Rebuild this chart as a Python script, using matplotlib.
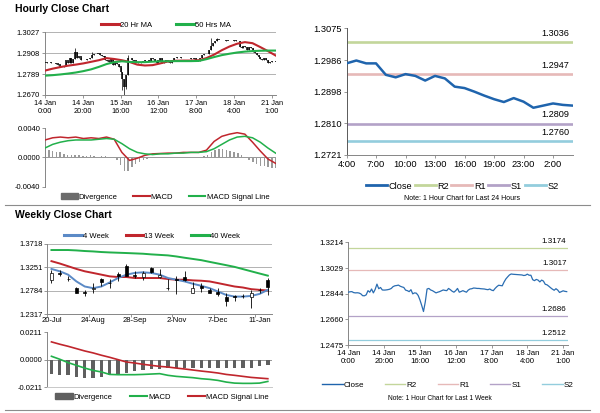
import numpy as np
import matplotlib
matplotlib.use("Agg")
import matplotlib.pyplot as plt
from matplotlib.lines import Line2D
from matplotlib.patches import Patch

plt.rcParams['font.family'] = ['Liberation Sans', 'DejaVu Sans']

# ---------------- data ----------------
# hourly closes, 14 Jan 0:00 .. 21 Jan 2:00 (trading hours)
hourly_close = [
    1.2855, 1.2858, 1.2859, 1.2852, 1.2850, 1.2851, 1.2849, 1.2843, 1.2830, 1.2829,
    1.2836, 1.2866, 1.2855, 1.2878, 1.2850, 1.2875, 1.2913, 1.2880, 1.2889, 1.2871,
    1.2870, 1.2871, 1.2873, 1.2876, 1.2882, 1.2895, 1.2901, 1.2903, 1.2906, 1.2898,
    1.2893, 1.2889, 1.2870, 1.2866, 1.2859, 1.2873, 1.2843, 1.2850, 1.2848, 1.2832,
    1.2800, 1.2760, 1.2716, 1.2785, 1.2878, 1.2882, 1.2871, 1.2866, 1.2858, 1.2850,
    1.2855, 1.2859, 1.2865, 1.2871, 1.2868, 1.2866, 1.2882, 1.2873, 1.2862, 1.2855,
    1.2866, 1.2882, 1.2855, 1.2860, 1.2866, 1.2860, 1.2855, 1.2870, 1.2878, 1.2880,
    1.2885, 1.2884, 1.2882, 1.2882, 1.2880, 1.2879, 1.2878, 1.2875, 1.2873, 1.2878,
    1.2870, 1.2866, 1.2882, 1.2895, 1.2905, 1.2903, 1.2901, 1.2928, 1.2950, 1.2965,
    1.2979, 1.2986, 1.2984, 1.2983, 1.2982, 1.2981, 1.2980, 1.2979, 1.2975, 1.2977,
    1.2985, 1.2977, 1.2977, 1.2945, 1.2938, 1.2947, 1.2942, 1.2929, 1.2942, 1.2935,
    1.2912, 1.2908, 1.2898, 1.2887, 1.2877, 1.2869, 1.2880, 1.2870, 1.2853, 1.2859,
    1.2865, 1.2861, 1.2859]
hourly_wick_high = {16: 1.2935, 25: 1.2912, 88: 1.2992, 91: 1.2997, 44: 1.2900}
hourly_wick_low = {41: 1.2700, 42: 1.2670, 43: 1.2705, 89: 1.2950}
hourly_labels = ['14 Jan\n0:00', '14 Jan\n20:00', '15 Jan\n16:00', '16 Jan\n12:00',
                 '17 Jan\n8:00', '18 Jan\n4:00', '21 Jan\n1:00']

# indicators sampled every ~4 hours
ma20 = [1.2809, 1.2820, 1.2829, 1.2837, 1.2843, 1.2850, 1.2859, 1.2868, 1.2880, 1.2875,
        1.2868, 1.2858, 1.2843, 1.2838, 1.2840, 1.2850, 1.2861, 1.2865, 1.2866, 1.2866,
        1.2868, 1.2880, 1.2900, 1.2925, 1.2946, 1.2962, 1.2971, 1.2965, 1.2943, 1.2920,
        1.2895]
ma50 = [1.2780, 1.2783, 1.2787, 1.2792, 1.2798, 1.2806, 1.2816, 1.2830, 1.2846, 1.2857,
        1.2862, 1.2858, 1.2857, 1.2857, 1.2860, 1.2862, 1.2862, 1.2863, 1.2863, 1.2863,
        1.2864, 1.2874, 1.2886, 1.2897, 1.2905, 1.2912, 1.2917, 1.2920, 1.2922, 1.2923,
        1.2923]
h_macd = [0.0024, 0.0027, 0.0028, 0.0027, 0.0028, 0.0026, 0.0027, 0.0026, 0.0028, 0.0025,
          0.0007, -0.0004, -0.0001, 0.0003, 0.0005, 0.00055, 0.0006, 0.0006, 0.0007, 0.0007,
          0.0007, 0.0010, 0.0022, 0.0029, 0.0032, 0.0034, 0.0032, 0.0021, 0.0009, -0.0002,
          -0.0008]
h_signal = [0.0013, 0.0018, 0.0021, 0.0023, 0.0024, 0.0024, 0.0024, 0.0025, 0.0026, 0.0025,
            0.0019, 0.0012, 0.0007, 0.0005, 0.0004, 0.0005, 0.0005, 0.0006, 0.0006, 0.0007,
            0.0007, 0.0008, 0.0012, 0.0018, 0.0024, 0.0028, 0.0029, 0.0027, 0.0021, 0.0013,
            0.0006]
# divergence every ~2 hours
h_div = [0.0010, 0.0010, 0.0009, 0.0008, 0.0007, 0.0005, 0.0004, 0.0004, 0.0004, 0.0003,
         0.0002, 0.0002, 0.0003, 0.0002, 0.0001, 0.0002, 0.0002, 0.0001, 0.0000, -0.0004,
         -0.0010, -0.0018, -0.0019, -0.0013, -0.0009, -0.0006, -0.0003, -0.0002, 0.0001, 0.0001,
         0.0000, 0.0001, 0.0001, 0.0000, 0.0000, 0.0001, 0.0001, 0.0000, 0.0000, 0.0000,
         0.0000, 0.0001, 0.0002, 0.0004, 0.0008, 0.0010, 0.0011, 0.0011, 0.0010, 0.0009,
         0.0007, 0.0006, 0.0003, 0.0001, -0.0003, -0.0006, -0.0009, -0.0011, -0.0012, -0.0013,
         -0.0014, -0.0014]

# last 24 hours chart
last24_labels = ['4:00', '7:00', '10:00', '13:00', '16:00', '19:00', '23:00', '2:00']
levels_24h = {'R2': 1.3036, 'R1': 1.2947, 'S1': 1.2809, 'S2': 1.2760}
levels_1w = {'R2': 1.3174, 'R1': 1.3017, 'S1': 1.2686, 'S2': 1.2512}

# weekly candles
week_labels = ['20-Jul', '24-Aug', '28-Sep', '2-Nov', '7-Dec', '11-Jan']
w_open = [1.3006, 1.3135, 1.3030, 1.2838, 1.2757, 1.2831, 1.3020, 1.2945, 1.3121, 1.3275,
          1.3094, 1.3060, 1.3242, 1.3060, 1.2845, 1.3013, 1.3060, 1.2750, 1.2885, 1.2804,
          1.2771, 1.2656, 1.2676, 1.2683, 1.2656, 1.2811, 1.3006]
w_high = [1.3208, 1.3195, 1.3087, 1.2871, 1.2804, 1.2939, 1.3040, 1.3020, 1.3154, 1.3329,
          1.3174, 1.3174, 1.3262, 1.3221, 1.3020, 1.3073, 1.3174, 1.2952, 1.2939, 1.2838,
          1.2838, 1.2737, 1.2703, 1.2723, 1.2804, 1.2838, 1.3040]
w_low = [1.2939, 1.3087, 1.2972, 1.2737, 1.2683, 1.2737, 1.2885, 1.2838, 1.2972, 1.3073,
         1.3040, 1.3006, 1.3141, 1.3040, 1.2804, 1.2718, 1.2972, 1.2737, 1.2771, 1.2737,
         1.2683, 1.2481, 1.2589, 1.2636, 1.2434, 1.2737, 1.2703]
w_close = [1.3141, 1.3121, 1.3020, 1.2750, 1.2750, 1.2845, 1.2952, 1.2939, 1.3073, 1.3087,
           1.3087, 1.3141, 1.3161, 1.3107, 1.2838, 1.3006, 1.2993, 1.2838, 1.2838, 1.2750,
           1.2723, 1.2589, 1.2670, 1.2690, 1.2737, 1.2804, 1.2871]
ma4w = [1.3221, 1.3174, 1.3107, 1.2972, 1.2871, 1.2838, 1.2871, 1.2952, 1.3040, 1.3107,
        1.3141, 1.3154, 1.3141, 1.3107, 1.3040, 1.3006, 1.2972, 1.2925, 1.2885, 1.2838,
        1.2771, 1.2703, 1.2670, 1.2670, 1.2683, 1.2723, 1.2804]
ma13w = [1.3376, 1.3329, 1.3275, 1.3221, 1.3174, 1.3141, 1.3107, 1.3073, 1.3060, 1.3060,
         1.3040, 1.3040, 1.3040, 1.3040, 1.3020, 1.3006, 1.3006, 1.2993, 1.2986, 1.2972,
         1.2939, 1.2905, 1.2871, 1.2851, 1.2818, 1.2804, 1.2791]
ma40w = [1.3598, 1.3598, 1.3598, 1.3590, 1.3578, 1.3570, 1.3558, 1.3550, 1.3544, 1.3538,
         1.3531, 1.3524, 1.3511, 1.3501, 1.3491, 1.3470, 1.3444, 1.3420, 1.3396, 1.3362,
         1.3329, 1.3296, 1.3262, 1.3218, 1.3174, 1.3130, 1.3087]
w_macd = [0.0026, 0.0003, -0.0023, -0.0044, -0.0065, -0.0083, -0.0095, -0.0114, -0.0116, -0.0116,
          -0.0116, -0.0114, -0.0111, -0.0108, -0.0121, -0.0129, -0.0134, -0.0139, -0.0147, -0.0152,
          -0.0160, -0.0173, -0.0181, -0.0183, -0.0183, -0.0181, -0.0168]
w_signal = [0.0137, 0.0119, 0.0103, 0.0085, 0.0067, 0.0052, 0.0034, 0.0018, 0.0000, -0.0018,
            -0.0026, -0.0036, -0.0044, -0.0052, -0.0057, -0.0065, -0.0072, -0.0080, -0.0088, -0.0095,
            -0.0103, -0.0114, -0.0121, -0.0129, -0.0137, -0.0142, -0.0147]
w_div = [-0.0108, -0.0116, -0.0121, -0.0134, -0.0142, -0.0142, -0.0134, -0.0121, -0.0108, -0.0101,
         -0.0090, -0.0083, -0.0075, -0.0070, -0.0065, -0.0065, -0.0062, -0.0062, -0.0062, -0.0062,
         -0.0062, -0.0062, -0.0062, -0.0062, -0.0062, -0.0049, -0.0039]

# ---------------- styling ----------------
RED = '#c0262d'
GREEN = '#22b04b'
BLUE4 = '#5b8ac6'
CBLUE = '#1f64ad'
LEVEL_COLORS = {'R2': '#c3d69b', 'R1': '#e6b9b8', 'S1': '#b3a2c7', 'S2': '#93cddd'}
AXC = '#868686'
W, H = 600, 413

fig = plt.figure(figsize=(6, 4.13), dpi=100)
fig.patch.set_facecolor('white')


def px_axes(l, t, r, b):
    return fig.add_axes([l / W, 1 - b / H, (r - l) / W, (b - t) / H])


def excel_style(ax, fs=5.5, bottom=True):
    for s in ['top', 'right']:
        ax.spines[s].set_visible(False)
    ax.spines['left'].set_color(AXC)
    ax.spines['left'].set_linewidth(0.7)
    ax.spines['bottom'].set_color(AXC)
    ax.spines['bottom'].set_linewidth(0.7)
    ax.spines['bottom'].set_visible(bottom)
    ax.tick_params(labelsize=fs, length=2, width=0.6, color=AXC, pad=1.5)
    ax.set_facecolor('none')


def fig_text(x, y, s, **kw):
    fig.text(x / W, 1 - y / H, s, **kw)


def fig_hline(x0, x1, y, color='#8c8c8c', lw=0.8):
    fig.add_artist(Line2D([x0 / W, x1 / W], [1 - y / H, 1 - y / H],
                          transform=fig.transFigure, color=color, lw=lw))


def fig_legend(handles, labels, x, y, fs=5.5, **kw):
    fig.legend(handles, labels, loc='center', bbox_to_anchor=(x / W, 1 - y / H),
               ncol=len(handles), frameon=False, fontsize=fs, handletextpad=0.15,
               borderaxespad=0, borderpad=0, **kw)


fmt4 = lambda vals: ['%.4f' % v for v in vals]

# ---------------- hourly close chart ----------------
fig_text(15, 9, 'Hourly Close Chart', fontsize=7.5, fontweight='bold', va='center')

hours = np.arange(len(hourly_close))
ind_hours = np.linspace(0, 122, len(ma20))
div_hours = np.linspace(0, 122, len(h_div))

ax = px_axes(45, 32.3, 275.6, 95)
excel_style(ax)
h_ticks = [1.2670, 1.2789, 1.2908, 1.3027]
ax.set_ylim(h_ticks[0], h_ticks[-1])
ax.set_yticks(h_ticks)
ax.set_yticklabels(fmt4(h_ticks))
ax.yaxis.grid(True, color='#a6a6a6', lw=0.6)
ax.set_axisbelow(True)
opens = [hourly_close[0]] + hourly_close[:-1]
for i, (o, c) in enumerate(zip(opens, hourly_close)):
    lo = hourly_wick_low.get(i, min(o, c))
    hi = hourly_wick_high.get(i, max(o, c))
    ax.vlines(i, lo, hi, color='black', lw=0.5, zorder=3)
    ax.vlines(i, min(o, c), max(o, c) + 0.00008, color='black', lw=1.1, zorder=3)
ax.plot(ind_hours, ma20, color=RED, lw=1.5, zorder=4)
ax.plot(ind_hours, ma50, color=GREEN, lw=1.5, zorder=4)
ax.set_xlim(0, 122)
ax.set_xticks(np.arange(0, 121, 20))
ax.set_xticklabels(hourly_labels, fontsize=5.3, linespacing=1.15)
fig_legend([Line2D([], [], color=RED, lw=2.2), Line2D([], [], color=GREEN, lw=2.2)],
           ['20 Hr MA', '50 Hrs MA'], 166, 25, handlelength=2.3, columnspacing=3.2)

ax = px_axes(45, 128.3, 275.6, 186.7)
excel_style(ax, bottom=False)
ax.set_ylim(-0.004, 0.004)
ax.set_yticks([-0.004, 0.0, 0.004])
ax.set_yticklabels(fmt4([-0.004, 0.0, 0.004]))
ax.axhline(0, color=AXC, lw=0.6)
ax.bar(div_hours, h_div, width=0.8, color='#9a9a9a', zorder=2)
ax.plot(ind_hours, h_macd, color=RED, lw=1.1, zorder=3)
ax.plot(ind_hours, h_signal, color=GREEN, lw=1.1, zorder=3)
ax.set_xlim(0, 122)
ax.set_xticks([])
fig_legend([Patch(color='#6b6b6b'), Line2D([], [], color=RED, lw=1.5),
            Line2D([], [], color=GREEN, lw=1.5)],
           ['Divergence', 'MACD', 'MACD Signal Line'], 165, 197,
           handlelength=2.2, columnspacing=2.0)

fig_hline(5, 590, 205)

# ---------------- last 24 hours chart ----------------
last24 = hourly_close[-24:]
ax = px_axes(346.5, 28.3, 572.7, 155)
excel_style(ax, fs=6.7)
t24 = [1.2721, 1.2810, 1.2898, 1.2986, 1.3075]
ax.set_ylim(t24[0], t24[-1])
ax.set_yticks(t24)
ax.set_yticklabels(fmt4(t24))
ax.spines['left'].set_color('#595959')
for name, val in levels_24h.items():
    ax.axhline(val, color=LEVEL_COLORS[name], lw=1.9, zorder=2)
    ax.text(0.985, val + 0.0012, '%.4f' % val, transform=ax.get_yaxis_transform(),
            ha='right', va='bottom', fontsize=6.6)
ax.plot(np.arange(24), last24, color=CBLUE, lw=1.8, zorder=3)
ax.set_xlim(0, 23)
ax.set_xticks(np.arange(0, 22, 3))
ax.set_xticklabels(last24_labels)
fig_legend([Line2D([], [], color=CBLUE, lw=2)] +
           [Line2D([], [], color=LEVEL_COLORS[k], lw=2) for k in levels_24h],
           ['Close'] + list(levels_24h), 462, 186, fs=6.6,
           handlelength=2.3, columnspacing=0.3)
fig_text(462, 198, 'Note: 1 Hour Chart for Last 24 Hours', fontsize=5,
         ha='center', va='center')

# ---------------- weekly close chart ----------------
fig_text(15, 215, 'Weekly Close Chart', fontsize=7.5, fontweight='bold', va='center')

weeks = np.arange(len(w_close))
ax = px_axes(47.3, 244, 272, 314.3)
excel_style(ax)
wt = [1.2317, 1.2784, 1.3251, 1.3718]
ax.set_ylim(wt[0], wt[-1])
ax.set_yticks(wt)
ax.set_yticklabels(fmt4(wt))
ax.yaxis.grid(True, color='#a6a6a6', lw=0.6)
ax.set_axisbelow(True)
ax.plot(weeks, ma40w, color=GREEN, lw=1.4, zorder=2)
ax.plot(weeks, ma13w, color=RED, lw=1.4, zorder=2)
ax.plot(weeks, ma4w, color=BLUE4, lw=1.4, zorder=2)
for i in weeks:
    o, hi, lo, c = w_open[i], w_high[i], w_low[i], w_close[i]
    ax.vlines(i, lo, hi, color='black', lw=0.6, zorder=3)
    up = c > o
    body = max(abs(c - o), 0.0006)
    ax.bar(i, body, bottom=min(o, c), width=0.36,
           color='white' if up else 'black', edgecolor='black', lw=0.5, zorder=4)
ax.set_xlim(-0.5, 26.5)
ax.set_xticks(np.arange(-0.5, 27, 5))
ax.set_xticklabels([])
ax.set_xticks(np.arange(0, 26, 5), minor=True)
ax.set_xticklabels(week_labels, minor=True)
ax.tick_params(axis='x', which='minor', length=0, labelsize=5.5, pad=2)
fig_legend([Line2D([], [], color=BLUE4, lw=2.2), Line2D([], [], color=RED, lw=2.2),
            Line2D([], [], color=GREEN, lw=2.2)],
           ['4 Week', '13 Week', '40 Week'], 152, 236,
           handlelength=2.3, columnspacing=2.2)

ax = px_axes(47.3, 332.3, 272, 387)
excel_style(ax)
ax.spines['bottom'].set_color('#c8c8c8')
ax.set_ylim(-0.0211, 0.0211)
ax.set_yticks([-0.0211, 0.0, 0.0211])
ax.set_yticklabels(fmt4([-0.0211, 0.0, 0.0211]))
ax.axhline(0, color=AXC, lw=0.6)
ax.bar(weeks, w_div, width=0.4, color='#5f5f5f', zorder=2)
ax.plot(weeks, w_macd, color=GREEN, lw=1.2, zorder=3)
ax.plot(weeks, w_signal, color=RED, lw=1.2, zorder=3)
ax.set_xlim(-0.5, 26.5)
ax.set_xticks([])
fig_legend([Patch(color='#5f5f5f'), Line2D([], [], color=GREEN, lw=1.5),
            Line2D([], [], color=RED, lw=1.5)],
           ['Divergence', 'MACD', 'MACD Signal Line'], 162, 397,
           handlelength=2.3, columnspacing=2.2)

fig_hline(5, 590, 410)

# ---------------- last week hourly chart ----------------
ax = px_axes(348.3, 242.3, 567.6, 345)
excel_style(ax, fs=5.7)
t1w = [1.2475, 1.2660, 1.2844, 1.3029, 1.3214]
ax.set_ylim(t1w[0], t1w[-1])
ax.set_yticks(t1w)
ax.set_yticklabels(fmt4(t1w))
for name, val in levels_1w.items():
    ax.axhline(val, color=LEVEL_COLORS[name], lw=0.9, zorder=2)
    ax.text(0.995, val + 0.0018, '%.4f' % val, transform=ax.get_yaxis_transform(),
            ha='right', va='bottom', fontsize=5.8)
ax.plot(hours, hourly_close, color='#2a6db2', lw=0.9, zorder=3)
ax.set_xlim(0, 122.5)
ax.set_xticks(np.arange(0, 121, 20))
ax.set_xticklabels(hourly_labels, fontsize=5.6, linespacing=1.2)
fig_legend([Line2D([], [], color=CBLUE, lw=1)] +
           [Line2D([], [], color=LEVEL_COLORS[k], lw=1) for k in levels_1w],
           ['Close'] + list(levels_1w), 448, 385, fs=5.8,
           handlelength=2.5, columnspacing=2.6)
fig_text(440, 398, 'Note: 1 Hour Chart for Last 1 Week', fontsize=4.8,
         ha='center', va='center')

fig.savefig('out.png', dpi=100, facecolor='white')
